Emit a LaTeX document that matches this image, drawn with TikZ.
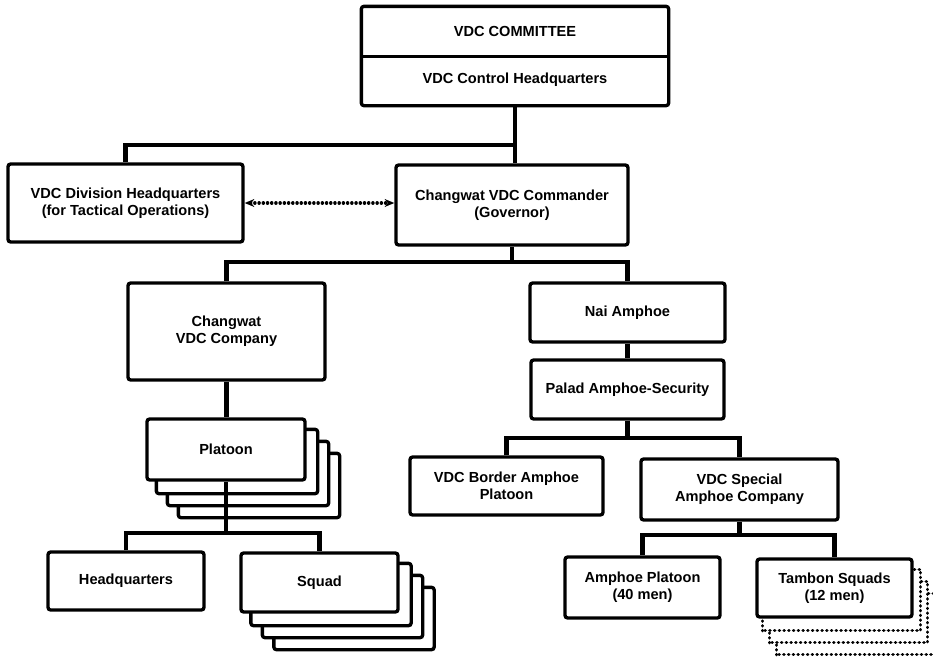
\documentclass[tikz,border=0pt]{standalone}
\usepackage{fontspec}
\newfontfamily\chartfont{Liberation Sans}
\usepackage{tikz}
\usetikzlibrary{calc,backgrounds,arrows.meta}
\newcommand{\pxu}{0.02cm}
\newcommand{\orgnode}[6]{\node[orgbox,minimum width=#4*\pxu,minimum height=#5*\pxu] (#1) at (#2,#3) {#6};}
\newcommand{\orgstack}[4]{%
  \begin{scope}[on background layer]
    \foreach \k in {#2,...,1}
      \draw[#4] ($(#1.south west)+(\k*#3,\k*12)$) rectangle ($(#1.north east)+(\k*#3,\k*12)$);
  \end{scope}}
\tikzset{
  orgbox/.style={draw,line width=1.9pt,rounded corners=1.5pt,fill=white,align=center,inner sep=0pt,
    font=\chartfont\bfseries\fontsize{8.3}{9.6}\selectfont},
  textonly/.style={draw=none,fill=none},
  backbox/.style={draw,line width=1.9pt,rounded corners=1.5pt,fill=white},
  dotbox/.style={draw,line width=2pt,dash pattern=on 0.1pt off 2.6pt,line cap=round,fill=white},
  link/.style={line width=2.8pt},
  liaison/.style={line width=1.9pt,dash pattern=on 0.1pt off 2.3pt,line cap=round,{Stealth[length=5.5pt,width=4.5pt]}-{Stealth[length=5.5pt,width=4.5pt]}}
}

\begin{document}
\begin{tikzpicture}[x=0.02cm,y=-0.02cm]
    \useasboundingbox (0,0) rectangle (933,656);

    % top of the chart
    \node[orgbox,textonly,minimum width=304*\pxu,minimum height=47*\pxu] (committee) at (515,31.5) {VDC COMMITTEE};
    \node[orgbox,textonly,minimum width=304*\pxu,minimum height=49*\pxu] (ctrlhq) at (515,79.5) {VDC Control Headquarters};
    \draw[line width=1.9pt,rounded corners=1.5pt] (committee.north west) rectangle (ctrlhq.south east);
    \draw[line width=1.5pt] (committee.south west) -- (committee.south east);
    \orgnode{divhq}{125.5}{203}{235}{78}{VDC Division Headquarters\\(for Tactical Operations)}
    \orgnode{cmdr}{512}{205}{232}{80}{Changwat VDC Commander\\(Governor)}

    % changwat company branch
    \orgnode{company}{226.5}{331.5}{197}{97}{Changwat\\VDC Company}
    \orgnode{platoon}{226}{449.5}{158}{61}{Platoon}
    \orgstack{platoon}{3}{11}{backbox}
    \orgnode{hq}{126}{581}{156}{58}{Headquarters}
    \orgnode{squad}{319.5}{582.5}{157}{59}{Squad}
    \orgstack{squad}{3}{11.5}{backbox}

    % amphoe branch
    \orgnode{nai}{627.5}{312.5}{195}{59}{Nai Amphoe}
    \orgnode{palad}{627.5}{389.5}{193}{59}{Palad Amphoe-Security}
    \orgnode{border}{506.5}{486}{193}{58}{VDC Border Amphoe\\Platoon}
    \orgnode{special}{739.5}{489.5}{197}{61}{VDC Special\\Amphoe Company}
    \orgnode{amphplt}{642.5}{587.5}{155}{61}{Amphoe Platoon\\(40 men)}
    \orgnode{tambon}{834.5}{588}{155}{58}{Tambon Squads\\(12 men)}
    \orgstack{tambon}{3}{7}{dotbox}

    % junctions
    \coordinate (j1) at (ctrlhq.south |- 0,145);
    \coordinate (j2) at (cmdr.south |- 0,262);
    \coordinate (j3) at (platoon.south |- 0,533);
    \coordinate (j4) at (palad.south |- 0,438);
    \coordinate (j5) at (special.south |- 0,535);

    \draw[link] (ctrlhq.south) -- (ctrlhq.south |- cmdr.north);
    \draw[link] (j1) -| (divhq.north);
    \draw[liaison] (divhq.east) -- (divhq.east -| cmdr.west);
    \draw[link] (cmdr.south) -- (j2);
    \draw[link] (company.north) |- (j2) -| (nai.north);
    \draw[link] (company.south) -- (company.south |- platoon.north);
    \draw[link] (platoon.south) -- (j3);
    \draw[link] (hq.north) |- (j3) -| (squad.north);
    \draw[link] (nai.south) -- (palad.north);
    \draw[link] (palad.south) -- (j4);
    \draw[link] (border.north) |- (j4) -| (special.north);
    \draw[link] (special.south) -- (j5);
    \draw[link] (amphplt.north) |- (j5) -| (tambon.north);
\end{tikzpicture}
\end{document}
